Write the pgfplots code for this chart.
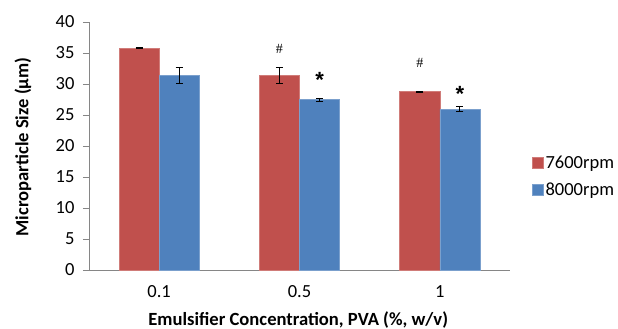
\documentclass[border=0pt]{standalone}
\usepackage{pgfplots}
\usepackage{pgfplotstable}
\pgfplotsset{compat=1.18}
\usepackage{fontspec}
\setmainfont{Carlito}
\newfontfamily\serifmark{Liberation Serif}
\newfontfamily\sansmark{Liberation Sans}

\definecolor{rpmred}{HTML}{C0504D}
\definecolor{rpmblue}{HTML}{4F81BD}
\definecolor{axisgray}{HTML}{868686}

% mean particle size and error for each emulsifier concentration
\pgfplotstableread{
x y ey
0 35.8 0.12
1 31.4 1.3
2 28.75 0.1
}\lowspeed
\pgfplotstableread{
x y ey
0 31.4 1.25
1 27.5 0.25
2 25.95 0.45
}\highspeed

\begin{document}
\begin{tikzpicture}[x=1pt,y=1pt]
\path[use as bounding box] (-89,-59) rectangle (529,270);
\begin{axis}[
  at={(0,0)}, anchor=south west,
  scale only axis, width=421pt, height=248pt,
  xmin=-0.5, xmax=2.5, ymin=0, ymax=40,
  ytick={0,5,...,40},
  xtick={0,1,2}, xticklabels={0.1,0.5,1},
  /pgf/number format/assume math mode=true,
  axis lines*=left,
  axis line style={axisgray, line width=0.8pt},
  y tick style={axisgray, line width=0.8pt},
  x tick style={draw=none},
  tick align=outside,
  major tick length=6pt,
  tick label style={font=\fontsize{18.5}{21}\selectfont, black},
  yticklabel style={xshift=-5pt},
  xticklabel style={yshift=-6pt},
  ybar, bar width=0.2857,
  ylabel={\bfseries Microparticle Size (µm)},
  xlabel={\bfseries Emulsifier Concentration, PVA (\%, w/v)},
  label style={font=\fontsize{18.6}{21}\selectfont},
  ylabel style={at={(axis description cs:-0.157,0.496)}, anchor=center},
  xlabel style={at={(axis description cs:0.497,-0.2016)}, anchor=center},
  legend style={draw=none, fill=none, at={(axis description cs:1.052,0.377)},
    anchor=west, font=\fontsize{18.5}{21}\selectfont, row sep=9pt,
    inner sep=0pt, cells={anchor=west}},
  legend image code/.code={\fill[#1] (0pt,-5.5pt) rectangle (11pt,5.5pt);},
  error bars/error bar style={black, line width=0.8pt},
  error bars/error mark options={black, line width=0.8pt, rotate=90, mark size=3.5pt},
]
\addplot+[bar shift=-0.14286, fill=rpmred, draw=rpmred!75!white, line width=0.5pt,
  error bars/.cd, y dir=both, y explicit]
  table[x=x, y=y, y error=ey] {\lowspeed};
\addlegendentry[xshift=-3pt]{7600rpm}
\addplot+[bar shift=0.14286, fill=rpmblue, draw=rpmblue!75!white, line width=0.5pt,
  error bars/.cd, y dir=both, y explicit]
  table[x=x, y=y, y error=ey] {\highspeed};
\addlegendentry[xshift=-3pt]{8000rpm}

% significance marks above the bars
\node[font=\serifmark\fontsize{14}{16}\selectfont] at (axis cs:0.857,35.6) {\#};
\node[font=\serifmark\fontsize{14}{16}\selectfont] at (axis cs:1.857,33.4) {\#};
\node[font=\sansmark\bfseries\fontsize{22}{24}\selectfont] at (axis cs:1.143,30.6) {*};
\node[font=\sansmark\bfseries\fontsize{22}{24}\selectfont] at (axis cs:2.143,28.4) {*};
\end{axis}
\end{tikzpicture}
\end{document}
